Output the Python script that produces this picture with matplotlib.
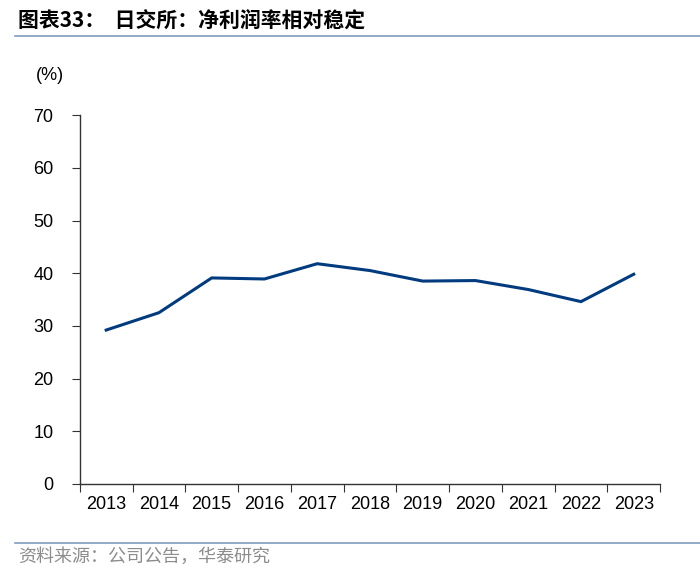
import numpy as np
import matplotlib
matplotlib.use("Agg")
import matplotlib.pyplot as plt

plt.rcParams['font.family'] = ['Liberation Sans', 'Noto Sans CJK SC', 'DejaVu Sans']

# data
years = ['2013', '2014', '2015', '2016', '2017', '2018', '2019', '2020', '2021', '2022', '2023']
net_margin = [29.2, 32.5, 39.1, 38.9, 41.8, 40.5, 38.5, 38.6, 36.9, 34.6, 39.8]
y_ticks = [0, 10, 20, 30, 40, 50, 60, 70]

title = '图表33：  日交所：净利润率相对稳定'
source = '资料来源：公司公告，华泰研究'

fig = plt.figure(figsize=(7, 5.76), dpi=100)
ax = fig.add_axes([0.114, 0.160, 0.829, 0.640])

x = np.arange(len(years))
ax.plot(x, net_margin, color='#003B7F', linewidth=2.2, solid_joinstyle='miter')

ax.set_xlim(-0.5, len(years) - 0.5)
ax.set_ylim(0, 70)
ax.set_yticks(y_ticks)
ax.set_yticklabels([str(v) for v in y_ticks])

# category labels centred, tick marks on the category boundaries
ax.set_xticks(np.arange(len(years) + 1) - 0.5)
ax.set_xticklabels([])
ax.set_xticks(x, minor=True)
ax.set_xticklabels(years, minor=True)
ax.tick_params(axis='x', which='minor', length=0, pad=9, labelsize=13)
ax.tick_params(axis='x', which='major', direction='out', length=6, color='#333333')
ax.tick_params(axis='y', direction='out', length=6, pad=13, labelsize=13, color='#333333')

for s in ['top', 'right']:
    ax.spines[s].set_visible(False)
for s in ['left', 'bottom']:
    ax.spines[s].set_color('#333333')
    ax.spines[s].set_linewidth(1.0)

fig.text(50 / 700, 1 - 75 / 576, '(%)', fontsize=13, ha='center', va='center')

# header and footer
fig.text(18 / 700, 1 - 20 / 576, title, fontsize=15, fontweight='bold',
         ha='left', va='center', family=['Noto Sans CJK SC', 'DejaVu Sans'])
fig.add_artist(plt.Line2D([15 / 700, 1.0], [1 - 36 / 576] * 2, color='#7F9CC0', linewidth=1.2))
fig.add_artist(plt.Line2D([15 / 700, 1.0], [1 - 543 / 576] * 2, color='#7F9CC0', linewidth=1.2))
fig.text(18 / 700, 1 - 557 / 576, source, fontsize=13, color='#8C8C8C',
         ha='left', va='center', family=['Noto Sans CJK SC', 'DejaVu Sans'])

fig.savefig('out.png', dpi=100)
